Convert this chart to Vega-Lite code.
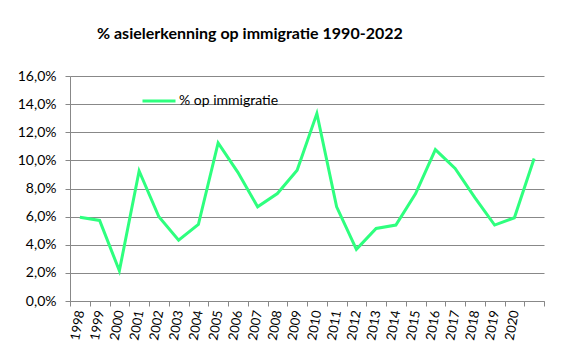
{
  "$schema": "https://vega.github.io/schema/vega-lite/v6.json",
  "width": 474,
  "height": 225,
  "autosize": {"type": "none"},
  "padding": {"left": 70, "top": 76, "right": 34, "bottom": 56},
  "background": "white",
  "title": {
    "text": "% asielerkenning op immigratie 1990-2022",
    "anchor": "start",
    "frame": "group",
    "font": "Lato",
    "fontSize": 16,
    "fontWeight": "bold",
    "color": "black",
    "dx": 27,
    "offset": 27
  },
  "config": {
    "view": {"stroke": null},
    "font": "Lato"
  },
  "data": {
    "values": [
      {"year": "1998", "pct": 0.0596},
      {"year": "1999", "pct": 0.0573},
      {"year": "2000", "pct": 0.0215},
      {"year": "2001", "pct": 0.0925},
      {"year": "2002", "pct": 0.0599},
      {"year": "2003", "pct": 0.0433},
      {"year": "2004", "pct": 0.0544},
      {"year": "2005", "pct": 0.1124},
      {"year": "2006", "pct": 0.0915},
      {"year": "2007", "pct": 0.0670},
      {"year": "2008", "pct": 0.0764},
      {"year": "2009", "pct": 0.0930},
      {"year": "2010", "pct": 0.1333},
      {"year": "2011", "pct": 0.0670},
      {"year": "2012", "pct": 0.0367},
      {"year": "2013", "pct": 0.0516},
      {"year": "2014", "pct": 0.0540},
      {"year": "2015", "pct": 0.0764},
      {"year": "2016", "pct": 0.1077},
      {"year": "2017", "pct": 0.0942},
      {"year": "2018", "pct": 0.0735},
      {"year": "2019", "pct": 0.0540},
      {"year": "2020", "pct": 0.0592},
      {"year": "2021", "pct": 0.1013}
    ]
  },
  "mark": {"type": "line", "strokeWidth": 3},
  "encoding": {
    "x": {
      "field": "year",
      "type": "ordinal",
      "bandPosition": 0.5,
      "scale": {"type": "band", "paddingInner": 0, "paddingOuter": 0},
      "axis": {
        "title": null,
        "tickBand": "extent",
        "labelAngle": -80,
        "labelFontSize": 13,
        "labelColor": "black",
        "labelFont": "Lato",
        "labelExpr": "datum.value == '2021' ? '' : datum.value",
        "domainColor": "#888888",
        "tickColor": "#888888",
        "tickSize": 5,
        "labelPadding": 4,
        "grid": false
      }
    },
    "y": {
      "field": "pct",
      "type": "quantitative",
      "scale": {"domain": [0, 0.16], "nice": false},
      "axis": {
        "title": null,
        "values": [0, 0.02, 0.04, 0.06, 0.08, 0.1, 0.12, 0.14, 0.16],
        "labelExpr": "replace(format(datum.value, '.1%'), '.', ',')",
        "labelFontSize": 14,
        "labelColor": "black",
        "labelFont": "Lato",
        "labelPadding": 9,
        "domainColor": "#888888",
        "tickColor": "#888888",
        "tickSize": 5,
        "grid": true,
        "gridColor": "#888888",
        "gridOpacity": 1
      }
    },
    "color": {
      "datum": "% op immigratie",
      "scale": {"range": ["#2EFF7E"]},
      "legend": {
        "title": null,
        "orient": "none",
        "legendX": 71,
        "legendY": 7,
        "padding": 0,
        "symbolType": "stroke",
        "symbolSize": 1089,
        "symbolStrokeWidth": 3,
        "labelFontSize": 14,
        "labelColor": "black",
        "labelFont": "Lato",
        "labelOffset": 2
      }
    }
  }
}
